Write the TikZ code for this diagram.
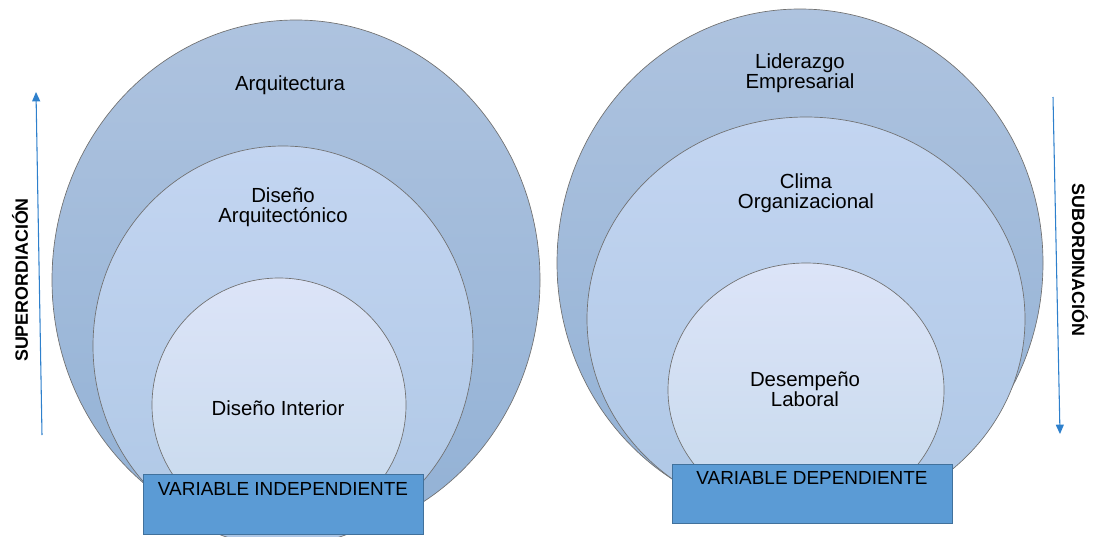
\documentclass[tikz,border=0pt]{standalone}
\usepackage{fontspec}
\setmainfont{Liberation Sans}
\usetikzlibrary{arrows.meta}

\definecolor{bandtop}{HTML}{AEC3DF}
\definecolor{bandmid}{HTML}{A4B6DE}
\definecolor{bandbot}{HTML}{92B1D5}
\definecolor{midtop}{HTML}{C3D5F1}
\definecolor{midmid}{HTML}{BBCDEA}
\definecolor{midbot}{HTML}{AEC7E5}
\definecolor{intop}{HTML}{DCE4F8}
\definecolor{inmid}{HTML}{D3DEF4}
\definecolor{inbot}{HTML}{C6D9EC}
\definecolor{boxfill}{HTML}{5B9BD5}
\definecolor{boxline}{HTML}{41719C}
\definecolor{arrowblue}{HTML}{2E80CC}
\definecolor{rimgray}{HTML}{707070}

\tikzset{
  outerring/.style={draw=rimgray, line width=0.5pt, top color=bandtop, middle color=bandmid, bottom color=bandbot},
  middlering/.style={draw=rimgray, line width=0.5pt, top color=midtop, middle color=midmid, bottom color=midbot},
  innerring/.style={draw=rimgray, line width=0.5pt, top color=intop, middle color=inmid, bottom color=inbot},
  ringtext/.style={align=center, font=\fontsize{15.3}{15}\selectfont, inner sep=0pt},
  varbox/.style={draw=boxline, fill=boxfill, line width=0.6pt, minimum width=210pt, minimum height=44.5pt, inner sep=0pt},
  boxtext/.style={font=\fontsize{14.2}{16}\selectfont, inner sep=0pt},
  sidetext/.style={font=\fontsize{13.4}{16}\selectfont\bfseries, inner sep=0pt},
  levelarrow/.style={draw=arrowblue, line width=0.8pt, -{Triangle[length=7pt,width=6pt]}}
}

\begin{document}
\begin{tikzpicture}[x=0.75pt,y=-0.75pt]
  \useasboundingbox (0,0) rectangle (1099,536);

  % left set
  \draw [outerring] (296,280) ellipse (244 and 260);
  \draw [middlering] (283,346) ellipse (190 and 200);
  \draw [innerring] (279,405) ellipse (127 and 127);
  \node [ringtext] (arq) at (290,85) {Arquitectura};
  \node [ringtext] (disarq) at (283,207) {Diseño\\Arquitectónico};
  \node [ringtext] (disint) at (278,408) {Diseño Interior};
  \node [varbox] (indep) at (283,504.5) {};
  \node [boxtext, below] (indeptext) at ([yshift=-6pt]indep.north) {VARIABLE INDEPENDIENTE};

  % right set
  \draw [outerring] (800,263) ellipse (243 and 254);
  \draw [middlering] (806,319) ellipse (219 and 202);
  \draw [innerring] (806,390) ellipse (138 and 127);
  \node [ringtext] (lider) at (800,73) {Liderazgo\\Empresarial};
  \node [ringtext] (clima) at (806,193) {Clima\\Organizacional};
  \node [ringtext] (desem) at (805,389) {Desempeño\\Laboral};
  \node [varbox] (dep) at (812,494) {};
  \node [boxtext, below] (deptext) at ([yshift=-5.5pt]dep.north) {VARIABLE DEPENDIENTE};

  % side arrows
  \coordinate (superlow) at (42,435);
  \coordinate (superhigh) at (36,92);
  \draw [levelarrow] (superlow) -- (superhigh);
  \node [sidetext, rotate=90] (super) at (20,280) {SUPERORDIACIÓN};

  \coordinate (subhigh) at (1053,97);
  \coordinate (sublow) at (1060,434);
  \draw [levelarrow] (subhigh) -- (sublow);
  \node [sidetext, rotate=-90] (sub) at (1080,260) {SUBORDINACIÓN};
\end{tikzpicture}
\end{document}
